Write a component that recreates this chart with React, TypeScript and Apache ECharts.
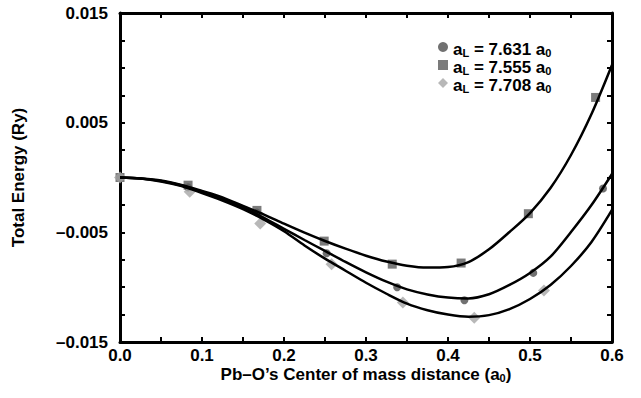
import React, { useEffect, useRef } from "react";
import * as echarts from "echarts";

// Marker data: x (a0) and total energy (Ry)
const circleX = [0, 0.083, 0.167, 0.252, 0.338, 0.42, 0.504, 0.589];
const circleY = [0, -0.0009, -0.0032, -0.0069, -0.0100, -0.0112, -0.0087, -0.001];
const squareX = [0, 0.083, 0.167, 0.249, 0.332, 0.416, 0.498, 0.58];
const squareY = [0, -0.0007, -0.003, -0.0058, -0.0079, -0.0078, -0.0033, 0.0073];
const diamondX = [0, 0.085, 0.171, 0.258, 0.345, 0.432, 0.517];
const diamondY = [0, -0.0013, -0.0042, -0.0079, -0.0114, -0.0128, -0.0103];

// Fitted curves, every 0.025 a0
const curveX = [0, 0.025, 0.05, 0.075, 0.1, 0.125, 0.15, 0.175, 0.2, 0.225, 0.25, 0.275, 0.3, 0.325, 0.35, 0.375, 0.4, 0.425, 0.45, 0.475, 0.5, 0.525, 0.55, 0.575, 0.6];
const curveSquare = [0, -0.00009, -0.00027, -0.00068, -0.00123, -0.00182, -0.0026, -0.00336, -0.00421, -0.00503, -0.00579, -0.00649, -0.00713, -0.00766, -0.00804, -0.00821, -0.00816, -0.00771, -0.00655, -0.00497, -0.00324, -0.00096, 0.00205, 0.00579, 0.01026];
const curveCircle = [0, -0.00009, -0.00032, -0.00073, -0.00132, -0.00196, -0.00272, -0.00365, -0.00468, -0.0057, -0.0067, -0.0077, -0.00865, -0.0095, -0.0102, -0.01066, -0.01095, -0.01103, -0.01065, -0.0098, -0.00871, -0.00722, -0.00497, -0.00251, 0.00032];
const curveDiamond = [0, -0.00009, -0.00036, -0.00078, -0.00141, -0.0021, -0.00288, -0.00382, -0.0049, -0.0062, -0.0074, -0.0085, -0.0096, -0.0106, -0.0115, -0.0121, -0.0125, -0.0127, -0.01255, -0.012, -0.01108, -0.0098, -0.00807, -0.00588, -0.00296];

const names = ["aL = 7.631 a0", "aL = 7.555 a0", "aL = 7.708 a0"];
const legendValues = ["7.631", "7.555", "7.708"];

const FONT = "Liberation Sans, Arial, Helvetica, sans-serif";

const zip = (xs: number[], ys: number[]) => xs.map((x, i) => [x, ys[i]]);

export default function App() {
  const ref = useRef<HTMLDivElement>(null);
  useEffect(() => {
    document.body.style.margin = "0";
    if (!ref.current) return;
    const chart = echarts.init(ref.current, null, { renderer: "svg" });
    const dash = (v: string) => v.replace("-", "\u2013");
    const axisCommon = {
      axisLine: { show: true, onZero: false, lineStyle: { color: "#000", width: 3 } },
      axisTick: { show: true, inside: true, length: 5, lineStyle: { color: "#000", width: 2 } },
      splitLine: { show: false },
    };
    const richSub = {
      b: { fontFamily: FONT, fontWeight: "bold", fontSize: 17, color: "#000", lineHeight: 22, verticalAlign: "bottom" },
      s: { fontFamily: FONT, fontWeight: "bold", fontSize: 11, color: "#000", lineHeight: 9, verticalAlign: "bottom" },
    };
    const richName = {
      b: { fontFamily: FONT, fontWeight: "bold", fontSize: 17, color: "#000", lineHeight: 15, verticalAlign: "bottom" },
      s: { fontFamily: FONT, fontWeight: "bold", fontSize: 11, color: "#000", lineHeight: 3, verticalAlign: "bottom" },
    };
    const lineSeries = (data: number[]) => ({
      type: "line",
      data: zip(curveX, data),
      smooth: 0.3,
      showSymbol: false,
      symbol: "none",
      silent: true,
      z: 5,
      lineStyle: { color: "#000", width: 2.5 },
    });
    const tickFont = { fontFamily: FONT, fontWeight: "bold", fontSize: 17, color: "#000" };
    chart.setOption({
      animation: false,
      backgroundColor: "#fff",
      grid: { left: 120, right: 29, top: 13, bottom: 56 },
      legend: {
        data: names,
        orient: "vertical",
        left: 433,
        top: 36,
        itemWidth: 10,
        itemHeight: 10,
        itemGap: 1,
        formatter: (name: string) => {
          const i = names.indexOf(name);
          return `{b|a}{s|L}{b| = ${legendValues[i]} a}{s|0}`;
        },
        textStyle: { rich: richSub },
      },
      xAxis: [
        {
          type: "value",
          min: 0,
          max: 0.6,
          interval: 0.05,
          position: "bottom",
          ...axisCommon,
          axisLabel: {
            margin: 6,
            lineHeight: 14,
            ...tickFont,
            formatter: (v: number) => {
              const r = Math.round(v * 100);
              return r % 10 === 0 ? v.toFixed(1) : "";
            },
          },
          name: "{b|Pb\u2013O\u2019s Center of mass distance (a}{s|0}{b|)}",
          nameLocation: "middle",
          nameGap: 26,
          nameMoveOverlap: false,
          nameTextStyle: { rich: richName },
        },
        {
          type: "value",
          min: 0,
          max: 0.6,
          interval: 0.05,
          position: "top",
          ...axisCommon,
          axisLabel: { show: false },
        },
      ],
      yAxis: [
        {
          type: "value",
          min: -0.015,
          max: 0.015,
          interval: 0.0025,
          position: "left",
          ...axisCommon,
          axisLabel: {
            margin: 12,
            ...tickFont,
            formatter: (v: number) => {
              const k = Math.round(v / 0.0025);
              return (k + 6) % 4 === 0 ? dash(v.toFixed(3)) : "";
            },
          },
          name: "Total Energy (Ry)",
          nameLocation: "middle",
          nameGap: 93,
          nameMoveOverlap: false,
          nameTextStyle: { ...tickFont },
        },
        {
          type: "value",
          min: -0.015,
          max: 0.015,
          interval: 0.0025,
          position: "right",
          ...axisCommon,
          axisLabel: { show: false },
        },
      ],
      series: [
        {
          name: names[0],
          type: "scatter",
          data: zip(circleX, circleY),
          symbol: "circle",
          symbolSize: 8,
          itemStyle: { color: "#4d4d4d" },
          z: 3,
        },
        {
          name: names[1],
          type: "scatter",
          data: zip(squareX, squareY),
          symbol: "rect",
          symbolSize: 9,
          itemStyle: { color: "#5a5a5a" },
          z: 3,
        },
        {
          name: names[2],
          type: "scatter",
          data: zip(diamondX, diamondY),
          symbol: "diamond",
          symbolSize: 12,
          itemStyle: { color: "#a6a6a6" },
          z: 4,
        },
        lineSeries(curveCircle),
        lineSeries(curveSquare),
        lineSeries(curveDiamond),
      ],
    });
    return () => chart.dispose();
  }, []);
  return <div ref={ref} style={{ width: 641, height: 398 }} />;
}
